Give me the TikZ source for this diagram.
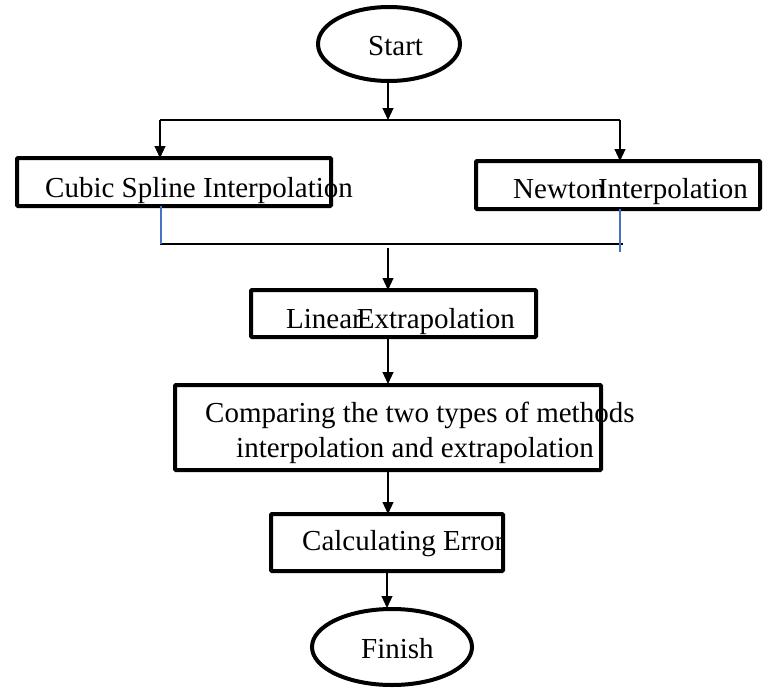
\documentclass[tikz,border=0pt]{standalone}
\usepackage{fontspec}
\setmainfont{Liberation Serif}
\usetikzlibrary{arrows.meta,shapes.geometric}
\definecolor{wordblue}{RGB}{68,114,196}
\tikzset{
  lbl/.style={inner sep=0pt, anchor=base west, font=\fontsize{29}{34}\selectfont},
  procbox/.style={draw, line width=4pt, rounded corners=1pt, inner sep=0pt, rectangle},
  termnode/.style={draw, line width=4pt, ellipse, inner sep=0pt},
  conn/.style={line width=1.1pt},
  arr/.style={line width=1.1pt, -{Triangle[length=12pt,width=11pt]}},
  blueline/.style={draw=wordblue, line width=1.1pt}
}
\begin{document}
\begin{tikzpicture}[x=1pt,y=-1pt]
\useasboundingbox (0,0) rectangle (769,688);
% texts
\node[lbl] (tstart) at (368,55) {Start};
\node[lbl] (tcubic) at (45,197) {Cubic Spline Interpolation};
\node[lbl] (tnewton) at (513,198) {Newton\kern-7pt Interpolation};
\node[lbl] (tlinear) at (286,328) {Linear\kern-5pt Extrapolation};
\node[lbl] (tcmp1) at (205,422) {Comparing the two types of methods};
\node[lbl] (tcmp2) at (236,457) {interpolation and extrapolation};
\node[lbl] (tcalc) at (302,550) {Calculating Error};
\node[lbl] (tfinish) at (361,658) {Finish};
% shapes
\node[termnode, minimum width=142pt, minimum height=74pt] (start) at (389,44) {};
\node[procbox, minimum width=314pt, minimum height=48pt] (cubic) at (174,182) {};
\node[procbox, minimum width=284pt, minimum height=48pt] (newton) at (618,185) {};
\node[procbox, minimum width=285pt, minimum height=47pt] (linear) at (393.5,313.5) {};
\node[procbox, minimum width=426pt, minimum height=85pt] (cmp) at (388,427.5) {};
\node[procbox, minimum width=232pt, minimum height=57pt] (calc) at (387,542.5) {};
\node[termnode, minimum width=160pt, minimum height=76pt] (finish) at (392,647) {};
% junction coordinates
\coordinate (jtop) at (388,120);
\coordinate (jl) at (160,120);
\coordinate (jr) at (620,120);
\coordinate (bl) at (160,244);
\coordinate (br) at (623,244);
\coordinate (bmid) at (388,248);
\coordinate (blueL) at (161,244);
\coordinate (blueR) at (620,252);
% connectors
\draw[arr] (start.south -| jtop) -- (jtop);
\draw[conn] (jl) -- (jr);
\draw[arr] (jl) -- ([yshift=-2pt]cubic.north -| jl);
\draw[arr] (jr) -- ([yshift=-2pt]newton.north -| jr);
\draw[conn] (bl) -- (br);
\draw[blueline] ([yshift=2pt]cubic.south -| blueL) -- (blueL);
\draw[blueline] ([yshift=2pt]newton.south -| blueR) -- (blueR);
\draw[arr] (bmid) -- ([yshift=-2pt]linear.north -| bmid);
\draw[arr] ([yshift=4pt]linear.south -| cmp.north) -- ([yshift=-1pt]cmp.north);
\draw[arr] ([yshift=2pt]cmp.south) -- ([yshift=-2pt]cmp.south |- calc.north);
\draw[arr] ([yshift=2pt]calc.south) -- ([yshift=-1pt]calc.south |- finish.north);
\end{tikzpicture}
\end{document}
